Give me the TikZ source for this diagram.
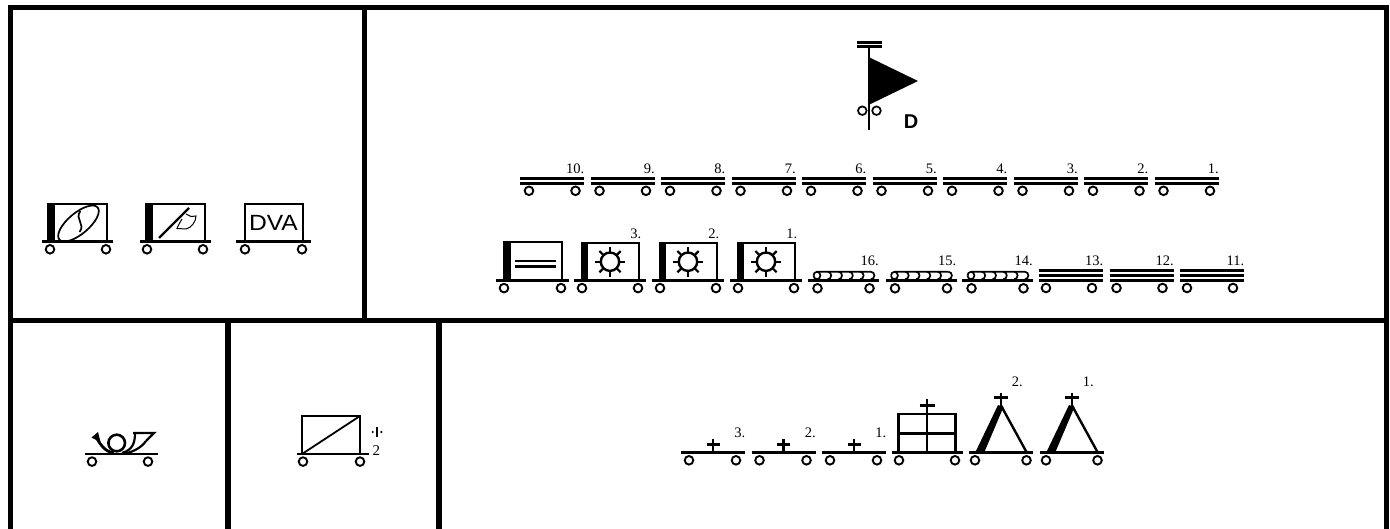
\documentclass[tikz,border=0pt]{standalone}
\usepackage{fontspec}
\setmainfont{Liberation Serif}
\newfontfamily\sansf{Liberation Sans}
\newcommand{\deckw}[5]{% x1 x2 y wheelL wheelR
  \draw[deck] (#1,#3) -- (#2,#3);
  \draw[wheel] (#4,#3+7.6) circle (4.3);
  \draw[wheel] (#5,#3+7.6) circle (4.3);}
\newcommand{\flatcar}[2]{% x, num
  \draw[deck] (#1,178.3) -- (#1+64,178.3);
  \draw[deck] (#1,183.4) -- (#1+64,183.4);
  \draw[wheel] (#1+9,190.8) circle (4.3);
  \draw[wheel] (#1+55.5,190.8) circle (4.3);
  \node[numl] (n#2) at (#1+64.5,174) {#2.};}
\newcommand{\triplecar}[2]{%
  \draw[deck] (#1,270.5) -- (#1+64,270.5);
  \draw[deck] (#1,275.6) -- (#1+64,275.6);
  \draw[deck] (#1,280.7) -- (#1+64,280.7);
  \draw[wheel] (#1+7,288) circle (4.3);
  \draw[wheel] (#1+53,288) circle (4.3);
  \node[numl] (t#2) at (#1+64.5,265.5) {#2.};}
\newcommand{\coilcar}[2]{%
  \deckw{#1}{#1+71}{280.7}{#1+9.5}{#1+61.5}
  \draw[thin1] (#1+5.5,275.5) arc[start angle=180,end angle=270,x radius=3.5,y radius=3.7] -- (#1+63,271.8);
  \draw[thin1] (#1+5.5,275.5) arc[start angle=180,end angle=90,x radius=3.5,y radius=3.7];
  \foreach \k in {0,1,2,3,4,5}
    \draw[thin1] (#1+9+\k*10.8,271.8) arc[start angle=-90,end angle=90,x radius=3.4,y radius=3.7];
  \node[numl] (c#2) at (#1+71,266) {#2.};}
\newcommand{\suncar}[2]{%
  \deckw{#1}{#1+72}{280.5}{#1+8}{#1+64}
  \fill (#1+7,242) rectangle (#1+14.3,280);
  \draw[boxl] (#1+8,243) -- (#1+65,243) -- (#1+65,280);
  \begin{scope}[shift={(#1+36,261.7)}]
    \draw[boxl] (0,0) circle (9.2);
    \foreach \a in {0,45,...,315} \draw[ray] (\a:9.2) -- (\a:15);
  \end{scope}
  \node[numl] (s#2) at (#1+67.5,239) {#2.};}
\newcommand{\crosscar}[2]{%
  \deckw{#1}{#1+64}{452.7}{#1+8}{#1+55}
  \draw[deck] (#1+32,439) -- (#1+32,452.7);
  \draw[deck] (#1+25.5,444.7) -- (#1+38.5,444.7);
  \node[numl] (x#2) at (#1+64.5,437) {#2.};}
\newcommand{\tentcar}[2]{%
  \deckw{#1}{#1+64}{452.7}{#1+6}{#1+57.5}
  \fill (#1+6,453) -- (#1+15,453) -- (#1+34.5,407) -- (#1+29,405) -- cycle;
  \draw[boxl] (#1+31.7,405) -- (#1+58,453);
  \draw[deck] (#1+32,392.7) -- (#1+32,406);
  \draw[deck] (#1+25,397.7) -- (#1+39,397.7);
  \node[numl] (e#2) at (#1+54,387) {#2.};}
\tikzset{
  frameline/.style={line width=5.2pt,line cap=butt},
  deck/.style={line width=2.8pt},
  boxl/.style={line width=2.4pt},
  wheel/.style={line width=1.9pt,fill=white},
  thin1/.style={line width=1.7pt},
  ray/.style={line width=2.2pt},
  numl/.style={anchor=base east,inner sep=0pt,font=\fontsize{14.5}{15}\selectfont},
}
\begin{document}
\begin{tikzpicture}[x=1pt,y=-1pt]
\useasboundingbox (0,0) rectangle (1390,529);
% frame
\draw[frameline] (10.5,529) -- (10.5,7.5) -- (1386.5,7.5) -- (1386.5,529);
\draw[frameline] (8,320.3) -- (1389,320.3);
\draw[frameline] (364.2,7.5) -- (364.2,320.3);
\draw[frameline] (228,320.3) -- (228,529);
\draw[frameline] (439,320.3) -- (439,529);
% top-left group
\deckw{42}{113}{241.7}{50}{106}
\fill (47,203) rectangle (54.5,241.7);
\draw[boxl] (48,204) -- (107,204) -- (107,241.7);
\draw[thin1,rotate around={40:(78.5,223.5)}] (78.5,223.5) ellipse (25 and 10.5);
\draw[thin1] (80.5,211) .. controls (74,219) and (86,224) .. (79.5,232);
\deckw{140}{211}{241.7}{147}{203}
\fill (145,203) rectangle (152.5,241.7);
\draw[boxl] (146,204) -- (205,204) -- (205,241.7);
\draw[line width=2.2pt] (159,238) -- (189,208);
\draw[line width=1pt] (186,214) -- (190,216) -- (191,216.5) -- (196,216) .. controls (196,222) and (191,228) .. (186,229) -- (177,228.5) .. controls (179,224) and (180,222) .. (182,219);
\deckw{236}{311}{241.7}{245}{302}
\draw[boxl] (245,241.7) -- (245,204) -- (303,204) -- (303,241.7);
\node[inner sep=0pt,anchor=base,xscale=1.12,font=\sansf\fontsize{22}{22}\selectfont] (dva) at (273.5,230.7) {DVA};
% flag
\draw[deck] (857,42.3) -- (882,42.3);
\draw[deck] (857,46.8) -- (882,46.8);
\draw[boxl] (869,46.8) -- (869,130);
\fill (868.5,57) -- (918,81) -- (868.5,105) -- cycle;
\draw[thin1] (862.3,110.7) circle (4.3);
\draw[thin1] (876.5,110.7) circle (4.3);
\node[inner sep=0pt,anchor=base,font=\sansf\bfseries\fontsize{20}{20}\selectfont] (D) at (911,129) {D};
% flat cars
\flatcar{520}{10}\flatcar{590.5}{9}\flatcar{661}{8}\flatcar{731.5}{7}\flatcar{802}{6}
\flatcar{872.5}{5}\flatcar{943}{4}\flatcar{1013.5}{3}\flatcar{1084}{2}\flatcar{1154.5}{1}
% row 3
\deckw{496}{569}{280.5}{504}{561}
\fill (503,241) rectangle (510.5,280);
\draw[boxl] (504,242) -- (562,242) -- (562,280);
\draw[deck] (515,261) -- (556,261);
\draw[deck] (515,266.3) -- (556,266.3);
\suncar{574}{3}\suncar{652}{2}\suncar{730}{1}
\coilcar{808}{16}\coilcar{885.5}{15}\coilcar{962}{14}
\triplecar{1039}{13}\triplecar{1109.5}{12}\triplecar{1180}{11}
% lower left
\deckw{85}{158}{454}{92}{148}
\draw[line width=2.6pt] (116.7,443) circle (8.3);
\fill (91.5,437.5) -- (98,432) -- (100.5,442) -- cycle;
\draw[line width=2.8pt] (96,437) .. controls (101,446) and (106,452) .. (114,453);
\draw[line width=2.4pt] (133,433) -- (154,433) -- (146,441);
\draw[line width=2.2pt] (135,433) .. controls (135,444) and (132,450) .. (122,453);
\draw[line width=2.2pt] (146,441) .. controls (141,448) and (134,451) .. (126,453.5);
% lower second
\deckw{297}{369}{454}{303}{360}
\draw[boxl] (302,454) -- (302,416) -- (360,416) -- (360,454);
\draw[line width=1.8pt] (302,454) -- (360,416);
\draw[line width=1.2pt] (377,427) -- (377,437);
\fill (372.7,432) circle (1.2);
\fill (381.3,432) circle (1.2);
\node[inner sep=0pt,anchor=base west,font=\fontsize{15}{15}\selectfont] (two) at (372.5,455) {2};
% lower right
\crosscar{681}{3}\crosscar{751.5}{2}\crosscar{822}{1}
\deckw{892}{963}{452.7}{899}{955}
\draw[boxl] (898.5,452.7) -- (898.5,414) -- (955.5,414) -- (955.5,452.7);
\draw[boxl] (898.5,433.3) -- (955.5,433.3);
\draw[boxl] (927,399) -- (927,452.7);
\draw[deck] (919.5,405.7) -- (934.5,405.7);
\tentcar{969}{2}\tentcar{1040}{1}
\end{tikzpicture}
\end{document}
